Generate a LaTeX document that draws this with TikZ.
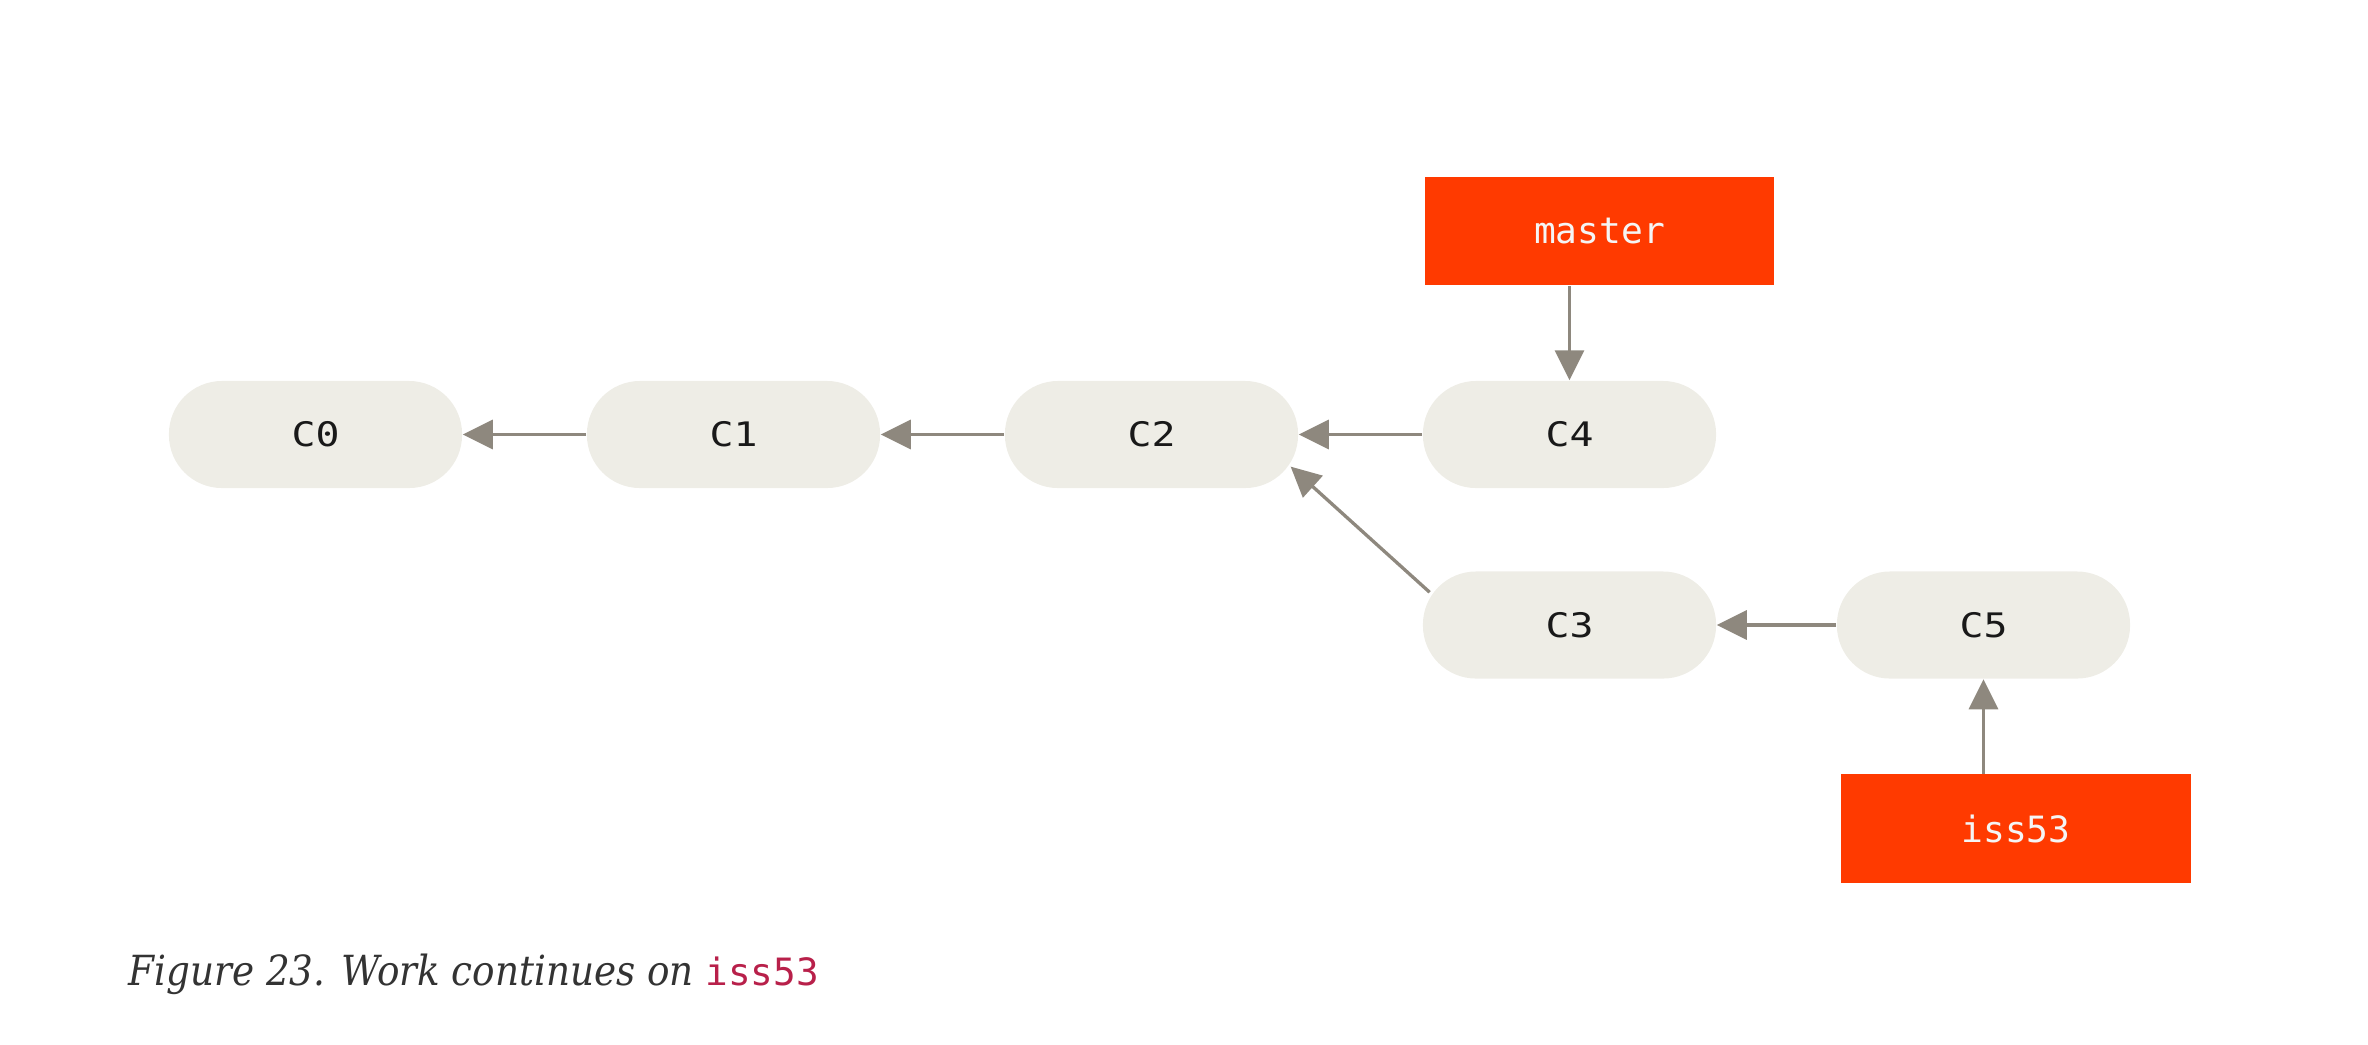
\documentclass[tikz,border=0pt]{standalone}
\usepackage{fontspec}
\usetikzlibrary{arrows.meta}
\newfontfamily\commitfont[FakeStretch=1.18]{DejaVu Sans Mono}
\newfontfamily\branchfont{DejaVu Sans Mono}
\newfontfamily\capfont[ItalicFont={DejaVu Serif Condensed Italic}]{DejaVu Serif Condensed}
\newfontfamily\capmono{DejaVu Sans Mono}
\definecolor{commitfill}{HTML}{EEEDE6}
\definecolor{linkgray}{HTML}{8E887E}
\definecolor{branchred}{HTML}{FF3A00}
\definecolor{captext}{HTML}{333333}
\definecolor{codered}{HTML}{B8204A}
\begin{document}
\begin{tikzpicture}[x=0.01cm, y=-0.01cm,
  commit/.style={fill=commitfill, rounded corners=0.53cm, minimum width=2.93cm,
    minimum height=1.07cm, inner sep=0pt, text=black!90,
    font=\commitfont\fontsize{9.6pt}{11pt}\selectfont},
  branch/.style={fill=branchred, minimum width=3.49cm, minimum height=1.08cm,
    inner sep=0pt, text=white!96!black,
    font=\branchfont\fontsize{10.3pt}{12pt}\selectfont},
  arr/.style={draw=linkgray, line width=0.94pt,
    -{Triangle[length=0.30cm, width=0.29cm]}, fill=linkgray}]
\useasboundingbox (0,0) rectangle (2368,1044);

% commits
\node[commit] (C0) at (315.5,434.5) {C0};
\node[commit] (C1) at (733.5,434.5) {C1};
\node[commit] (C2) at (1151.5,434.5) {C2};
\node[commit] (C4) at (1569.5,434.5) {C4};
\node[commit] (C3) at (1569.5,625) {C3};
\node[commit] (C5) at (1983.5,625) {C5};

% branch labels
\node[branch] (master) at (1599.5,231) {master};
\node[branch] (iss53) at (2016,828.5) {iss53};

% parent links
\draw[arr] (C1.west) -- (C0.east);
\draw[arr] (C2.west) -- (C1.east);
\draw[arr] (C4.west) -- (C2.east);
% the stadium ends sit inside the rectangle anchors, so pull the ends in
\draw[arr, shorten <=-0.10cm, shorten >=-0.11cm] (C3.165) -- (C2.-15);
\draw[arr] (C5.west) -- (C3.east);

% branch pointers
\draw[arr] (master.south -| C4.north) -- (C4.north);
\draw[arr] (iss53.north -| C5.south) -- (C5.south);

% caption
\node[anchor=base west, inner sep=0pt, text=captext] (caption) at (128,985)
  {\capfont\fontsize{11.8pt}{14pt}\selectfont\itshape Figure 23. Work continues on
   {\capmono\upshape\fontsize{10.7pt}{14pt}\selectfont\color{codered}iss53}};
\end{tikzpicture}
\end{document}
